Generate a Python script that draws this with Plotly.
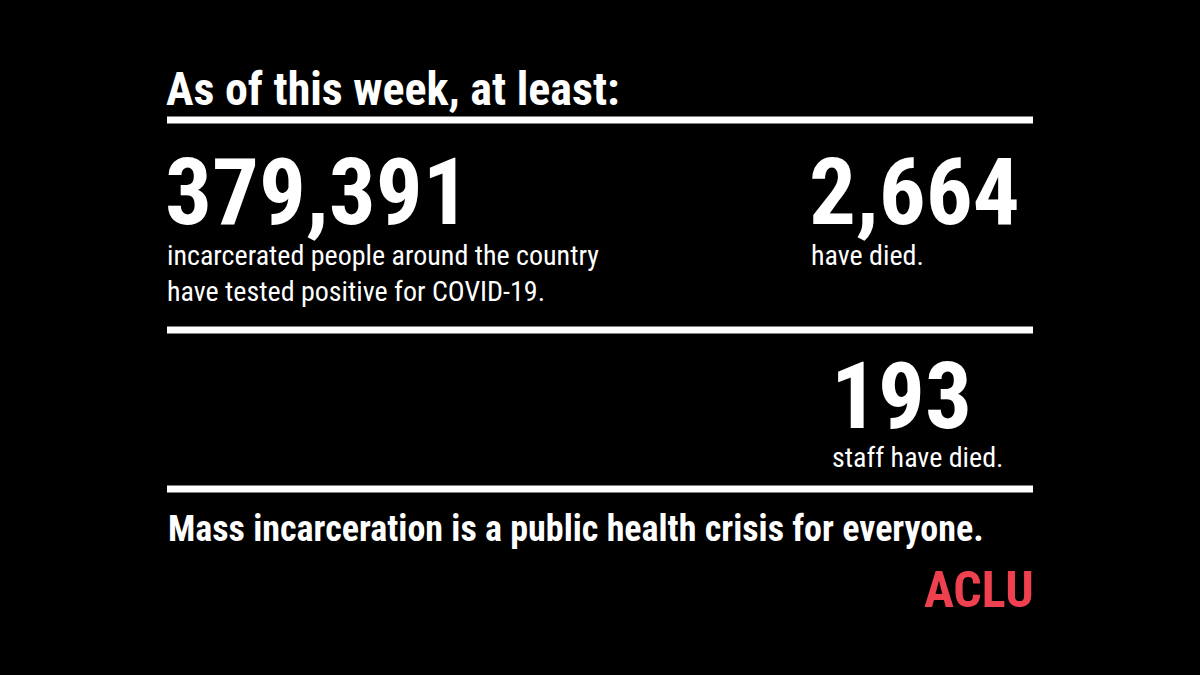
import plotly.graph_objects as go

# stats shown on the card
numbers = ["379,391", "2,664", "193"]
captions = ["incarcerated people around the country<br>have tested positive for COVID-19.",
            "have died.", "staff have died."]
headline = "As of this week, at least:"
footer = "Mass incarceration is a public health crisis for everyone."

FONT = "Liberation Sans Narrow, Roboto Condensed, Roboto, sans-serif"

fig = go.Figure()

def txt(x, y, s, size, bold=False, color="white", anchor="top"):
    fig.add_annotation(x=x, y=y, text="<b>%s</b>" % s if bold else s, showarrow=False,
                       xanchor="left", yanchor=anchor, align="left",
                       font=dict(family=FONT, size=size, color=color))

txt(164, 60, headline, 46, bold=True)
txt(163, 136, numbers[0], 93, bold=True)
txt(165, 237, captions[0], 28)
txt(807, 136, numbers[1], 93, bold=True)
txt(809, 237, captions[1], 28)
txt(829, 340, numbers[2], 93, bold=True)
txt(830, 439, captions[2], 28)
txt(166, 506, footer, 36, bold=True)
txt(922, 559, "ACLU", 50, bold=True, color="#ef404f")

for y in [120, 330, 489]:
    fig.add_shape(type="line", x0=167, x1=1033, y0=y, y1=y,
                  line=dict(color="white", width=7))

fig.update_xaxes(range=[0, 1200], visible=False)
fig.update_yaxes(range=[675, 0], visible=False)
fig.update_layout(width=1200, height=675, margin=dict(l=0, r=0, t=0, b=0),
                  paper_bgcolor="black", plot_bgcolor="black", showlegend=False)

fig.write_html("out.html", config={"displayModeBar": False},
               post_script="document.body.style.margin='0';document.body.style.background='black';")
